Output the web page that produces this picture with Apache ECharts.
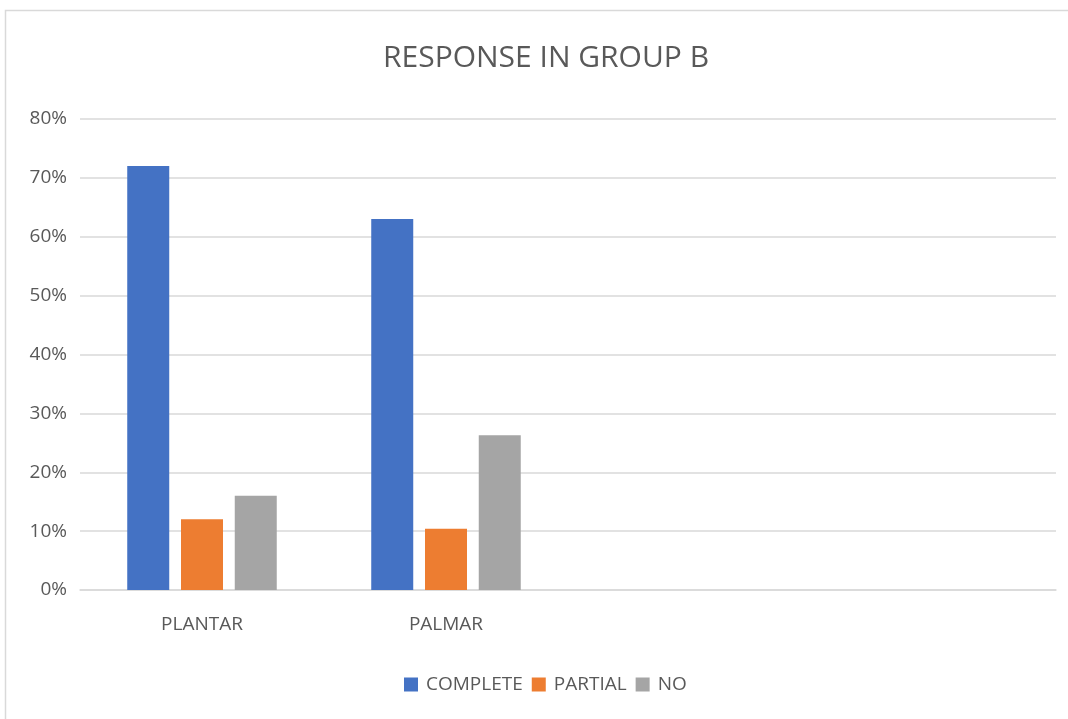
<!DOCTYPE html>
<html>
<head>
<meta charset="utf-8">
<script src="https://cdn.jsdelivr.net/npm/echarts@6/dist/echarts.min.js"></script>
<style>
  html, body { margin: 0; padding: 0; background: #ffffff; }
  #chart { width: 1068px; height: 719px; }
</style>
</head>
<body>
<div id="chart"></div>
<script>
// Response rates (%) per site; the last two category slots are left empty
const categories = ['PLANTAR', 'PALMAR', ' ', '  '];
const complete = [72, 63, null, null];
const partial = [12, 10.4, null, null];
const noResponse = [16, 26.3, null, null];
const yTicks = { min: 0, max: 80, interval: 10 };

const FONT = 'Open Sans';
const TEXT = '#595959';

const chart = echarts.init(document.getElementById('chart'), null, { renderer: 'canvas' });

chart.setOption({
  backgroundColor: '#ffffff',
  animation: false,
  title: {
    text: 'RESPONSE IN GROUP B',
    left: 378,
    top: 38,
    textStyle: { fontFamily: FONT, fontSize: 30, fontWeight: 'normal', color: TEXT }
  },
  graphic: [{
    type: 'rect',
    shape: { x: 5.5, y: 10.5, width: 1200, height: 900 },
    style: { fill: null, stroke: '#d9d9d9', lineWidth: 1.5 },
    silent: true
  }],
  legend: {
    bottom: 20,
    left: 399,
    itemWidth: 14,
    itemHeight: 14,
    itemGap: 9,
    icon: 'rect',
    textStyle: { fontFamily: FONT, fontSize: 19, color: TEXT, padding: [0, 0, 0, 3] },
    data: ['COMPLETE', 'PARTIAL', 'NO']
  },
  grid: { left: 80, right: 12, top: 119, bottom: 129, containLabel: false },
  xAxis: {
    type: 'category',
    data: categories,
    axisLine: { show: true, lineStyle: { color: '#d9d9d9', width: 1.5 } },
    axisTick: { show: false },
    axisLabel: { fontFamily: FONT, fontSize: 19, color: TEXT, margin: 25 }
  },
  yAxis: {
    type: 'value',
    min: yTicks.min,
    max: yTicks.max,
    interval: yTicks.interval,
    axisLine: { show: false },
    axisTick: { show: false },
    splitLine: { lineStyle: { color: '#d9d9d9', width: 1.5 } },
    axisLabel: { fontFamily: FONT, fontSize: 19, color: TEXT, margin: 13, formatter: '{value}%' }
  },
  series: [
    { name: 'COMPLETE', type: 'bar', data: complete, barWidth: 42, barGap: '28%', itemStyle: { color: '#4472C4' } },
    { name: 'PARTIAL', type: 'bar', data: partial, barWidth: 42, barGap: '28%', itemStyle: { color: '#ED7D31' } },
    { name: 'NO', type: 'bar', data: noResponse, barWidth: 42, barGap: '28%', itemStyle: { color: '#A5A5A5' } }
  ]
});
</script>
</body>
</html>
